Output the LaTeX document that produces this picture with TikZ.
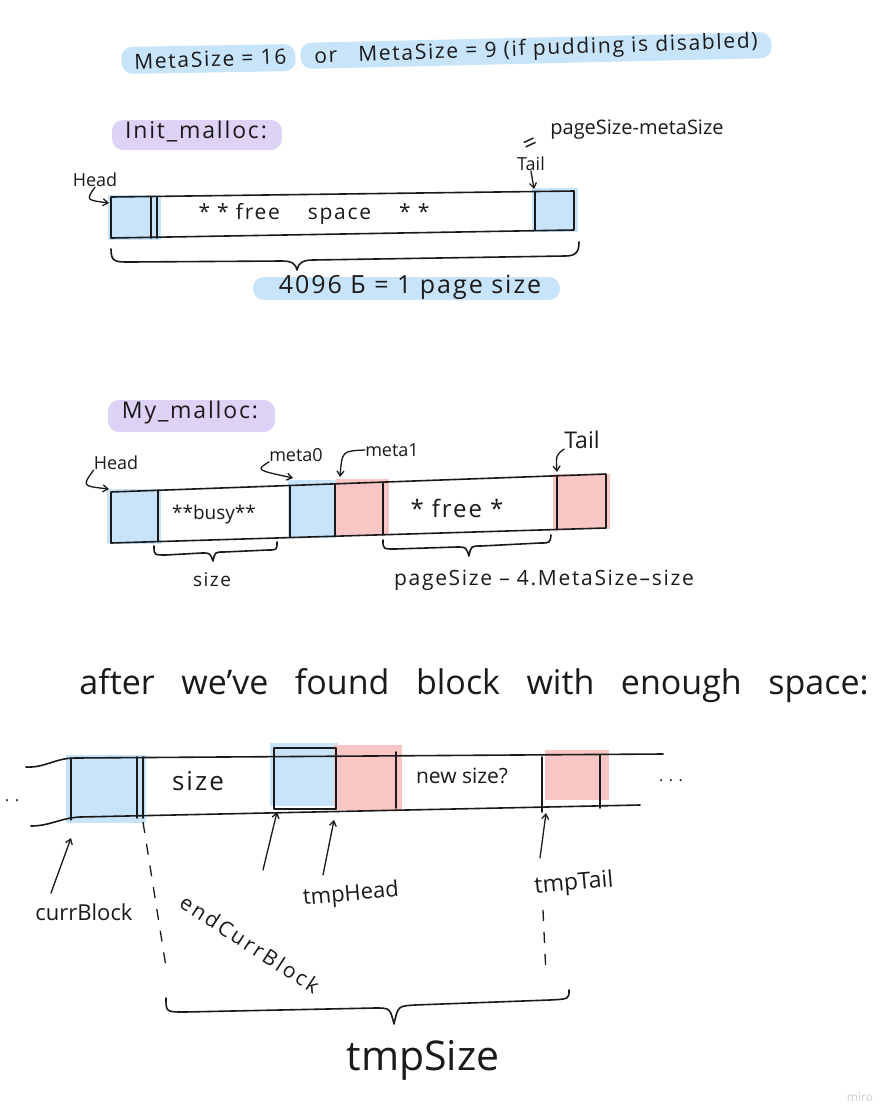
\documentclass[tikz,border=0pt]{standalone}
\usepackage{fontspec}
\setmainfont{Open Sans}
\usetikzlibrary{arrows.meta}
\definecolor{hlblue}{HTML}{C7E4FA}
\definecolor{hlpink}{HTML}{F9C6C6}
\definecolor{hlpurple}{HTML}{DCD3F7}
\definecolor{ink}{HTML}{1A1A1A}
\tikzset{
  ink/.style={draw=ink, line width=1.6pt, line cap=round, line join=round},
  ptr/.style={draw=ink, line width=1.3pt, line cap=round, -{Straight Barb[length=5pt,width=7pt]}},
  dashline/.style={draw=ink, line width=1.3pt, dash pattern=on 11pt off 11pt},
  hl/.style={rounded corners=11pt},
  lbl/.style={inner sep=0pt, text=ink},
  fs/.style={font=\fontsize{#1}{#1}\selectfont},
  ws/.style={font=\fontsize{#1}{#1}\selectfont\addfontfeature{LetterSpace=8}}
}
\begin{document}
\begin{tikzpicture}[x=1pt,y=-1pt]
\useasboundingbox (0,0) rectangle (892,1120);
\fill[white] (0,0) rectangle (892,1120);

% ===== Title line =====
\fill[hlblue, hl] (121,47) -- (295,44) -- (296,71) -- (122,74) -- cycle;
\fill[hlblue, hl] (300,43) -- (771,32) -- (772,58) -- (301,69) -- cycle;
\node[lbl, ws=21, rotate=2] (meta) at (446,53) {MetaSize = 16 \quad or\quad MetaSize = 9 (if pudding is disabled)};

% ===== Init_malloc =====
\fill[hlpurple, hl] (112,120) rectangle (282,150);
\node[lbl, ws=23] (init) at (196,132) {Init\_malloc:};

\fill[hlblue] (108,195) rectangle (161,240);
\fill[hlblue] (532,188) rectangle (578,232);
\draw[ink] (111,197) -- (574,191) -- (574,230) -- (111,238) -- cycle;
\draw[ink] (151,197) -- (151,238);
\draw[ink] (157,197) -- (157,238);
\draw[ink] (535,192) -- (535,230);
\node[lbl, ws=21] (free1) at (314,214) {* * free \quad space \quad * *};

\node[lbl, fs=18] (head1) at (95,180) {Head};
\coordinate (h1) at (109,203);
\draw[ptr] (head1.south) .. controls (86,200) .. (h1);
\node[lbl, fs=18] (tail1) at (531,164) {Tail};
\coordinate (t1) at (534,189);
\draw[ptr] (tail1.south) -- (t1);
\node[lbl, fs=24, rotate=25] (eq1) at (531,145) {=};
\node[lbl, fs=20] (psms) at (637,130) {pageSize-metaSize};

\draw[ink] (111,249) .. controls (111,262) and (115,262) .. (130,262) -- (282,261)
  .. controls (292,261) and (296,264) .. (297,270) .. controls (298,263) and (303,260) .. (313,260)
  -- (565,256) .. controls (576,256) and (579,252) .. (579,242);
\fill[hlblue, hl] (253,277) rectangle (560,300);
\node[lbl, ws=25] (page) at (410,287) {4096 Б = 1 page size};

% ===== My_malloc =====
\fill[hlpurple, hl] (108,400) rectangle (275,432);
\node[lbl, ws=23] (my) at (190,413) {My\_malloc:};

\fill[hlblue] (107,489) rectangle (161,544);
\fill[hlblue] (288,480) rectangle (336,538);
\fill[hlpink] (336,479) rectangle (389,535);
\fill[hlpink] (553,474) rectangle (610,529);
\draw[ink] (111,492) -- (606,474) -- (606,528) -- (111,543) -- cycle;
\draw[ink] (158,490.3) -- (158,541.6);
\draw[ink] (290,485.5) -- (290,537.6);
\draw[ink] (335,483.9) -- (335,536.2);
\draw[ink] (383,482.1) -- (383,534.8);
\draw[ink] (557,475.8) -- (557,529.5);
\node[lbl, fs=19] (busy) at (214,515) {**busy**};
\node[lbl, ws=24] (free2) at (457,508) {* free *};

\node[lbl, fs=18] (head2) at (116,463) {Head};
\coordinate (h2) at (109,489);
\draw[ptr] (head2.south west) .. controls (82,486) .. (h2);
\node[lbl, fs=18] (meta0) at (296,455) {meta0};
\coordinate (m0) at (293,478);
\draw[ptr] (meta0.south west) .. controls (256,470) .. (m0);
\node[lbl, fs=18] (meta1) at (392,450) {meta1};
\coordinate (m1) at (340,477);
\draw[ptr] (meta1.west) .. controls (342,451) .. (m1);
\node[lbl, fs=23] (tail2) at (582,440) {Tail};
\coordinate (t2) at (557,472);
\draw[ptr] (tail2.south west) .. controls (556,455) .. (t2);

\draw[ink] (154,546) .. controls (154,555) .. (166,555) -- (202,553)
  .. controls (210,553) .. (213,561) .. controls (215,552) .. (224,552)
  -- (268,550) .. controls (277,550) .. (277,542);
\node[lbl, ws=19] (size2) at (212,580) {size};
\draw[ink] (383,540) .. controls (383,549) .. (395,549) -- (457,547)
  .. controls (466,547) .. (469,556) .. controls (471,546) .. (481,546)
  -- (540,543) .. controls (550,543) .. (551,535);
\node[lbl, ws=21] (rest) at (544,580) {pageSize -- 4.MetaSize--size};

% ===== After found =====
\node[lbl, fs=34] (after) at (474,686) {after \ \ we've \ \ found \ \ block \ \ with \ \ enough \ \ space:};

\fill[hlblue] (66,755) rectangle (146,823);
\fill[hlblue] (270,743) rectangle (338,806);
\fill[hlpink] (334,745) rectangle (402,810);
\fill[hlpink] (545,750) rectangle (609,800);
\draw[ink] (26,767) .. controls (45,768) and (55,758) .. (75,758) -- (663,754);
\draw[ink] (31,826) .. controls (50,826) and (60,818) .. (80,817) -- (640,805);
\draw[ink] (71,758) -- (71,820);
\draw[ink] (137,757) -- (137,818);
\draw[ink] (143,757) -- (143,818);
\draw[ink] (274,748) rectangle (336,809);
\draw[ink] (396,752) -- (396,808);
\draw[ink] (542,757) -- (542,812);
\draw[ink] (600,755) -- (600,808);
\node[lbl, ws=26] (size3) at (198,781) {size};
\node[lbl, fs=21] (newsize) at (462,776) {new size?};
\node[lbl, fs=16] (dotsr) at (671,781) {. . .};
\node[lbl, fs=16] (dotsl) at (12,801) {. .};

\node[lbl, fs=22] (cb) at (84,912) {currBlock};
\coordinate (cbA) at (51,893);
\coordinate (cbB) at (71,838);
\draw[ptr] (cbA) -- (cbB);

\coordinate (ecA) at (143,822);
\coordinate (ecB) at (166,967);
\draw[dashline] (ecA) -- (ecB);
\node[lbl, font=\fontsize{21}{21}\selectfont\addfontfeature{LetterSpace=12}, rotate=-33] (ecb) at (250,944) {endCurrBlock};

\node[lbl, fs=22, rotate=5] (th) at (351,895) {tmpHead};
\coordinate (thA) at (263,870);
\coordinate (thB) at (277,812);
\coordinate (thC) at (323,875);
\coordinate (thD) at (334,820);
\draw[ptr] (thA) -- (thB);
\draw[ptr] (thC) -- (thD);

\node[lbl, fs=23, rotate=5] (tt) at (574,884) {tmpTail};
\coordinate (ttA) at (540,858);
\coordinate (ttB) at (546,813);
\draw[ptr] (ttA) -- (ttB);
\coordinate (tdA) at (543,910);
\coordinate (tdB) at (546,975);
\draw[dashline] (tdA) -- (tdB);

\draw[ink] (166,998) .. controls (166,1012) .. (185,1012) -- (375,1008)
  .. controls (390,1008) .. (394,1024) .. controls (398,1006) .. (415,1005)
  -- (550,1000) .. controls (569,999) .. (569,990);
\node[lbl, fs=41] (tmpsize) at (423,1060) {tmpSize};

\node[lbl, fs=12, text=black!20] (miro) at (860,1097) {miro};
\end{tikzpicture}
\end{document}
